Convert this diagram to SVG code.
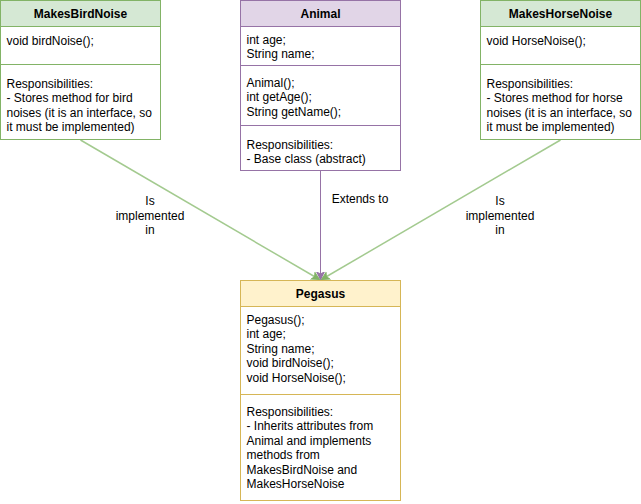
<svg xmlns="http://www.w3.org/2000/svg" width="641" height="504" viewBox="0 0 641 504">
<defs>
<style>
text{font-family:"Liberation Sans",Arial,Helvetica,sans-serif;font-size:12px;fill:#000}
.h{font-weight:bold;text-anchor:middle}
.c{text-anchor:middle}
.g{fill:#d5e8d4;stroke:#82b366}
.p{fill:#e1d5e7;stroke:#9673a6}
.y{fill:#fff2cc;stroke:#d6b656}
.b{fill:#fff}
.gl{stroke:#82b366;fill:none}
.ge{stroke:#a3ca8f;stroke-width:1.5;fill:none}
.pl{stroke:#9673a6;fill:none}
</style>
<marker id="ag" viewBox="-8 -5 9 10" refX="0" refY="0" markerWidth="9" markerHeight="10" markerUnits="userSpaceOnUse" orient="auto">
<path d="M0,0 L-7.5,-3.8 L-5.6,0 L-7.5,3.8 Z" fill="#82b366" stroke="#82b366"/>
</marker>
<marker id="ap" viewBox="-8 -5 9 10" refX="0" refY="0" markerWidth="9" markerHeight="10" markerUnits="userSpaceOnUse" orient="auto">
<path d="M0,0 L-7.5,-3.8 L-5.6,0 L-7.5,3.8 Z" fill="#9673a6" stroke="#9673a6"/>
</marker>
</defs>
<rect width="641" height="504" fill="#fff"/>
<g id="connectors">
<path class="ge" d="M80.5,140 L319.5,279.5" marker-end="url(#ag)"/>
<path class="ge" d="M560.5,140 L321.5,279.5" marker-end="url(#ag)"/>
<path class="pl" d="M320.5,170.5 L320.5,279.5" marker-end="url(#ap)"/>
<text class="c" x="150" y="205">Is</text>
<text class="c" x="150" y="219.5">implemented</text>
<text class="c" x="150" y="234">in</text>
<text class="c" x="360" y="203">Extends to</text>
<text class="c" x="500" y="205">Is</text>
<text class="c" x="500" y="219.5">implemented</text>
<text class="c" x="500" y="234">in</text>
</g>
<g id="MakesBirdNoise">
<rect class="b" x="0.5" y="0.5" width="160" height="139" stroke="#82b366"/>
<rect class="g" x="0.5" y="0.5" width="160" height="26"/>
<line class="gl" x1="0.5" y1="64.5" x2="160.5" y2="64.5"/>
<text class="h" x="80.5" y="18">MakesBirdNoise</text>
<text x="6.5" y="44.5">void birdNoise();</text>
<text x="6.5" y="87.5">Responsibilities:</text>
<text x="6.5" y="102">- Stores method for bird</text>
<text x="6.5" y="116.5">noises (it is an interface, so</text>
<text x="6.5" y="131">it must be implemented)</text>
</g>
<g id="Animal">
<rect class="b" x="240.5" y="0.5" width="160" height="170" stroke="#9673a6"/>
<rect class="p" x="240.5" y="0.5" width="160" height="26"/>
<line class="pl" x1="240.5" y1="65.5" x2="400.5" y2="65.5"/>
<line class="pl" x1="240.5" y1="125.5" x2="400.5" y2="125.5"/>
<text class="h" x="320.5" y="18">Animal</text>
<text x="246.5" y="44">int age;</text>
<text x="246.5" y="58.4">String name;</text>
<text x="246.5" y="87">Animal();</text>
<text x="246.5" y="101.4">int getAge();</text>
<text x="246.5" y="115.8">String getName();</text>
<text x="246.5" y="148.5">Responsibilities:</text>
<text x="246.5" y="163">- Base class (abstract)</text>
</g>
<g id="MakesHorseNoise">
<rect class="b" x="480.5" y="0.5" width="160" height="139" stroke="#82b366"/>
<rect class="g" x="480.5" y="0.5" width="160" height="26"/>
<line class="gl" x1="480.5" y1="64.5" x2="640.5" y2="64.5"/>
<text class="h" x="560.5" y="18">MakesHorseNoise</text>
<text x="486.5" y="44.5">void HorseNoise();</text>
<text x="486.5" y="87.5">Responsibilities:</text>
<text x="486.5" y="102">- Stores method for horse</text>
<text x="486.5" y="116.5">noises (it is an interface, so</text>
<text x="486.5" y="131">it must be implemented)</text>
</g>
<g id="Pegasus">
<rect class="b" x="240.5" y="280.5" width="160" height="220" stroke="#d6b656"/>
<rect class="y" x="240.5" y="280.5" width="160" height="26"/>
<line x1="240.5" y1="394.5" x2="400.5" y2="394.5" stroke="#d6b656"/>
<text class="h" x="320.5" y="298">Pegasus</text>
<text x="246.5" y="324">Pegasus();</text>
<text x="246.5" y="338.4">int age;</text>
<text x="246.5" y="352.8">String name;</text>
<text x="246.5" y="367.2">void birdNoise();</text>
<text x="246.5" y="381.6">void HorseNoise();</text>
<text x="246.5" y="416">Responsibilities:</text>
<text x="246.5" y="430.4">- Inherits attributes from</text>
<text x="246.5" y="444.8">Animal and implements</text>
<text x="246.5" y="459.2">methods from</text>
<text x="246.5" y="473.6">MakesBirdNoise and</text>
<text x="246.5" y="488">MakesHorseNoise</text>
</g>
</svg>
